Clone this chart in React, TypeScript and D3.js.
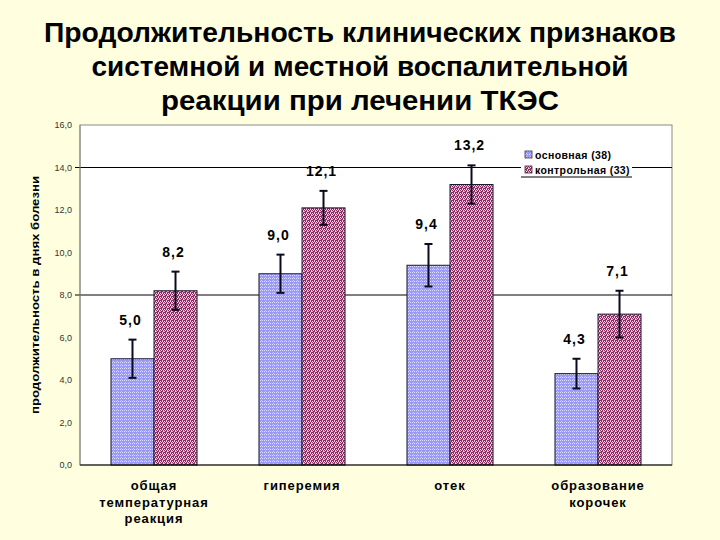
import React from "react";
import * as d3 from "d3";

// Chart data
const titleLines = [
  "Продолжительность клинических признаков",
  "системной и местной воспалительной",
  "реакции при лечении ТКЭС",
];
const categories = [
  ["общая", "температурная", "реакция"],
  ["гиперемия"],
  ["отек"],
  ["образование", "корочек"],
];
const seriesNames = ["основная (38)", "контрольная (33)"];
const mainValues = [5.0, 9.0, 9.4, 4.3];
const controlValues = [8.2, 12.1, 13.2, 7.1];
const mainErrors = [0.9, 0.9, 1.0, 0.7];
const controlErrors = [0.9, 0.8, 0.9, 1.1];
const yTicks = [0, 2, 4, 6, 8, 10, 12, 14, 16];
const gridValues = [8, 14];
const yAxisTitle = "продолжительность в днях болезни";

const W = 720;
const H = 540;
const margin = { top: 125, right: 48, bottom: 75, left: 80 };
const FONT = "'Liberation Sans', Arial, sans-serif";
const titleWidths = [632, 537, 398];

const fmt = (v: number) => d3.format(".1f")(v).replace(".", ",");

export default function App() {
  const innerW = W - margin.left - margin.right;
  const innerH = H - margin.top - margin.bottom;

  const x0 = d3
    .scaleBand<number>()
    .domain(categories.map((_, i) => i))
    .range([0, innerW])
    .padding(0);
  const x1 = d3
    .scaleBand<number>()
    .domain([0, 1])
    .range([0, x0.bandwidth()])
    .paddingInner(0)
    .paddingOuter(0.72);
  const y = d3.scaleLinear().domain([0, 16]).range([innerH, 0]);

  const series = [
    { values: mainValues, errors: mainErrors, fill: "url(#patBlue)" },
    { values: controlValues, errors: controlErrors, fill: "url(#patPink)" },
  ];

  return (
    <svg
      width={W}
      height={H}
      style={{ position: "fixed", left: 0, top: 0, fontFamily: FONT }}
    >
      <defs>
        <pattern id="patBlue" width="4" height="3" patternUnits="userSpaceOnUse">
          <rect width="4" height="3" fill="#9a9af6" />
          <rect x="0" y="0" width="1" height="1" fill="#dcdcff" />
          <rect x="2" y="0" width="1" height="1" fill="#dcdcff" />
          <rect x="1" y="2" width="1" height="1" fill="#c8c8ff" />
        </pattern>
        <pattern id="patPink" width="4" height="4" patternUnits="userSpaceOnUse">
          <rect width="4" height="4" fill="#8a2c5e" />
          <rect x="0" y="0" width="1" height="1" fill="#f6e0f0" />
          <rect x="2" y="0" width="1" height="1" fill="#ecc4e0" />
          <rect x="1" y="1" width="1" height="1" fill="#f8e4f2" />
          <rect x="3" y="1" width="1" height="1" fill="#e0a8d0" />
          <rect x="3" y="2" width="1" height="1" fill="#f6e0f0" />
          <rect x="2" y="3" width="1" height="1" fill="#ecc4e0" />
          <rect x="0" y="2" width="1" height="1" fill="#e0a0c8" />
        </pattern>
      </defs>

      <rect width={W} height={H} fill="#ffffdf" />

      {/* Title */}
      {titleLines.map((t, i) => (
        <text
          key={i}
          x={360}
          y={42 + i * 34}
          textAnchor="middle"
          fontSize={27}
          fontWeight="bold"
          fill="#000"
          textLength={titleWidths[i]}
          lengthAdjust="spacingAndGlyphs"
        >
          {t}
        </text>
      ))}

      {/* Y axis title */}
      <text
        transform={`translate(39,${margin.top + innerH / 2}) rotate(-90)`}
        textAnchor="middle"
        fontSize={11.5}
        fontWeight="bold"
        fill="#000"
        textLength={238}
        lengthAdjust="spacingAndGlyphs"
      >
        {yAxisTitle}
      </text>

      <g transform={`translate(${margin.left},${margin.top})`}>
        <rect width={innerW} height={innerH} fill="#fff" stroke="#8a8a8a" strokeWidth={1} />

        {gridValues.map((g) => (
          <line key={g} x1={-5} x2={innerW} y1={y(g)} y2={y(g)} stroke="#000" strokeWidth={1} />
        ))}

        <line x1={0} x2={0} y1={0} y2={innerH} stroke="#8a8a8a" />

        {yTicks.map((t) => (
          <text
            key={t}
            x={-8}
            y={y(t)}
            dy="0.35em"
            textAnchor="end"
            fontSize={9}
            fill="#333"
          >
            {fmt(t)}
          </text>
        ))}

        {/* Bars */}
        {categories.map((_, ci) =>
          series.map((s, si) => {
            const bx = (x0(ci) ?? 0) + (x1(si) ?? 0);
            const bw = x1.bandwidth();
            const v = s.values[ci];
            return (
              <rect
                key={`${ci}-${si}`}
                x={bx}
                y={y(v)}
                width={bw}
                height={innerH - y(v)}
                fill={s.fill}
                stroke="#1a1a33"
                strokeWidth={1}
              />
            );
          })
        )}

        <line x1={0} x2={innerW} y1={innerH} y2={innerH} stroke="#000" strokeWidth={1.2} />

        {/* Error bars and value labels */}
        {categories.map((_, ci) =>
          series.map((s, si) => {
            const cx = (x0(ci) ?? 0) + (x1(si) ?? 0) + x1.bandwidth() / 2;
            const v = s.values[ci];
            const e = s.errors[ci];
            const yt = y(v + e);
            const yb = y(v - e);
            return (
              <g key={`e${ci}-${si}`}>
                <line x1={cx} x2={cx} y1={yt} y2={yb} stroke="#0a0a20" strokeWidth={2} />
                <line x1={cx - 4} x2={cx + 4} y1={yt} y2={yt} stroke="#0a0a20" strokeWidth={2} />
                <line x1={cx - 4} x2={cx + 4} y1={yb} y2={yb} stroke="#0a0a20" strokeWidth={2} />
                <text
                  x={cx - 2}
                  y={yt - 15}
                  textAnchor="middle"
                  fontSize={14}
                  fontWeight="bold"
                  letterSpacing={1}
                  fill="#000"
                >
                  {fmt(v)}
                </text>
              </g>
            );
          })
        )}

        {/* Category labels */}
        {categories.map((lines, ci) => (
          <text
            key={`c${ci}`}
            x={(x0(ci) ?? 0) + x0.bandwidth() / 2}
            y={innerH + 25}
            textAnchor="middle"
            fontSize={13}
            fontWeight="bold"
            letterSpacing={0.9}
            fill="#000"
          >
            {lines.map((l, li) => (
              <tspan key={li} x={(x0(ci) ?? 0) + x0.bandwidth() / 2} dy={li === 0 ? 0 : 16.5}>
                {l}
              </tspan>
            ))}
          </text>
        ))}

        {/* Legend */}
        <g transform={`translate(${innerW - 151},23)`}>
          <rect width={111} height={29} fill="#fff" />
          <line x1={0} x2={111} y1={29} y2={29} stroke="#000" />
          {seriesNames.map((n, i) => (
            <g key={n} transform={`translate(4,${3 + i * 15})`}>
              <rect width={7} height={7} fill={series[i].fill} stroke="#333" strokeWidth={0.8} />
              <text x={10} y={7.5} fontSize={10.5} fontWeight="bold" letterSpacing={0.4} fill="#000">
                {n}
              </text>
            </g>
          ))}
        </g>
      </g>
    </svg>
  );
}
